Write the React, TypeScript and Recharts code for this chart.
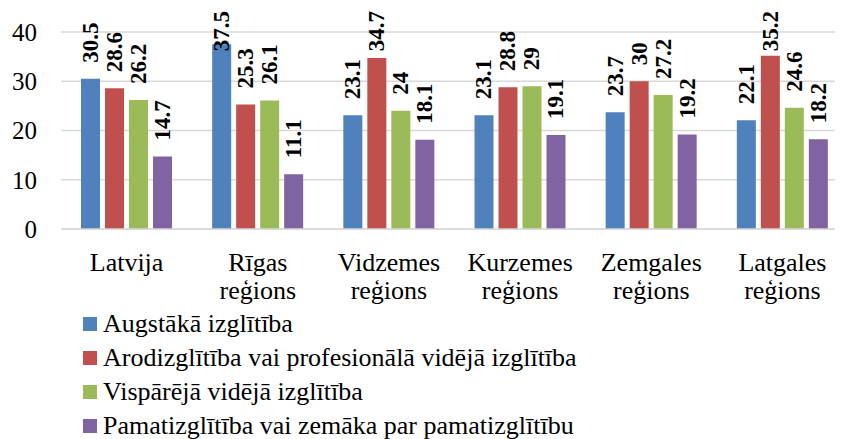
import React from "react"
import { BarChart, Bar, XAxis, YAxis, CartesianGrid, Legend, LabelList } from "recharts"

const categories = ["Latvija", "Rīgas\nreģions", "Vidzemes\nreģions", "Kurzemes\nreģions", "Zemgales\nreģions", "Latgales\nreģions"]
const augstaka = [30.5, 37.5, 23.1, 23.1, 23.7, 22.1]
const arodizglitiba = [28.6, 25.3, 34.7, 28.8, 30, 35.2]
const visparejaVideja = [26.2, 26.1, 24, 29, 27.2, 24.6]
const pamatizglitiba = [14.7, 11.1, 18.1, 19.1, 19.2, 18.2]
const yTicks = [0, 10, 20, 30, 40]

const series = [
  { key: "augstaka", name: "Augstākā izglītība", color: "#4f81bd" },
  { key: "arod", name: "Arodizglītība vai profesionālā vidējā izglītība", color: "#c0504d" },
  { key: "vispareja", name: "Vispārējā vidējā izglītība", color: "#9bbb59" },
  { key: "pamat", name: "Pamatizglītība vai zemāka par pamatizglītību", color: "#8064a2" },
]

const data = categories.map((c, i) => ({
  category: c,
  augstaka: augstaka[i],
  arod: arodizglitiba[i],
  vispareja: visparejaVideja[i],
  pamat: pamatizglitiba[i],
}))

const SERIF = "Times New Roman"

const renderLabel = (props: any) => {
  const { x, y, width, value } = props
  const text = String(value)
  const cx = x + width / 2
  // rough length of the rotated bold text, so labels stay inside the top
  const len = text.split("").reduce((s, ch) => s + (ch === "." ? 5.75 : 11.5), 0)
  let base = y - 16
  if (base - len < 11) base = 11 + len
  return (
    <text
      x={cx}
      y={base}
      transform={`rotate(-90 ${cx} ${base})`}
      textAnchor="start"
      dominantBaseline="central"
      fontWeight="bold"
      fontSize={23}
      fontFamily={SERIF}
      fill="#000"
    >
      {text}
    </text>
  )
}

const CategoryTick = (props: any) => {
  const { x, y, payload } = props
  const lines = String(payload.value).split("\n")
  return (
    <text x={x} y={y} textAnchor="middle" fontSize={26} fontFamily={SERIF} fill="#000">
      {lines.map((l, i) => (
        <tspan key={i} x={x} y={y + 42 + i * 28}>
          {l}
        </tspan>
      ))}
    </text>
  )
}

const LegendContent = () => (
  <div style={{ fontFamily: SERIF, fontSize: 26, color: "#000" }}>
    {series.map((s) => (
      <div key={s.key} style={{ display: "flex", alignItems: "center", height: 34, whiteSpace: "nowrap" }}>
        <span style={{ width: 14, height: 14, background: s.color, marginRight: 6, display: "inline-block" }} />
        <span style={{ fontFamily: SERIF }}>{s.name}</span>
      </div>
    ))}
  </div>
)

export default function App() {
  return (
    <div style={{ marginLeft: -8, marginTop: -8, width: 843, height: 439, fontFamily: SERIF }}>
      <BarChart
        width={843}
        height={439}
        data={data}
        margin={{ top: 32, right: -5, left: 0, bottom: 0 }}
        barCategoryGap={20}
        barGap={5}
      >
        <CartesianGrid vertical={false} stroke="#d9d9d9" strokeWidth={1.5} />
        <XAxis
          dataKey="category"
          interval={0}
          height={210}
          tickLine={false}
          tickSize={0}
          tickMargin={0}
          axisLine={{ stroke: "#d9d9d9", strokeWidth: 1.5 }}
          tick={<CategoryTick />}
        />
        <YAxis
          domain={[0, 40]}
          ticks={yTicks}
          width={61}
          axisLine={false}
          tickLine={false}
          tickSize={0}
          tickMargin={24}
          tick={{ fontSize: 25, fontFamily: SERIF, fill: "#000" }}
        />
        <Legend
          layout="vertical"
          verticalAlign="middle"
          align="center"
          content={<LegendContent />}
          wrapperStyle={{ top: 307, left: 83, width: "auto" }}
        />
        {series.map((s) => (
          <Bar key={s.key} dataKey={s.key} name={s.name} fill={s.color} isAnimationActive={false}>
            <LabelList dataKey={s.key} content={renderLabel} />
          </Bar>
        ))}
      </BarChart>
    </div>
  )
}
